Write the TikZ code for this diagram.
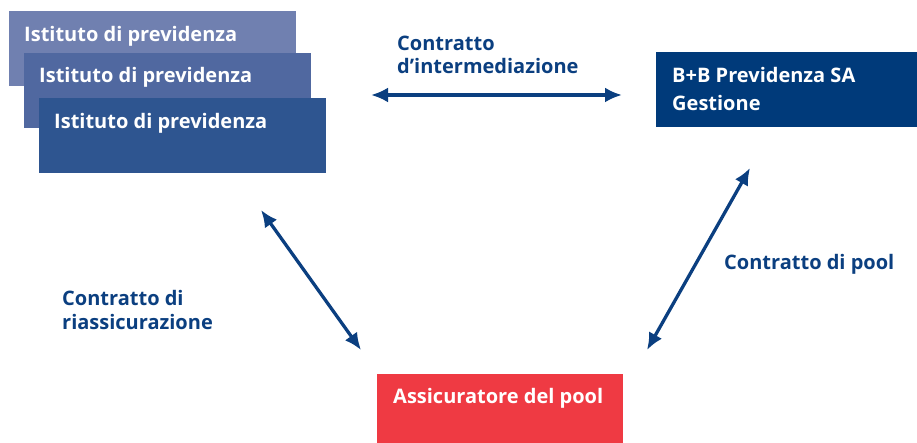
\documentclass[tikz,border=0pt]{standalone}
\usepackage{fontspec}
\setmainfont{Open Sans}[BoldFont={Open Sans Bold}]
\usetikzlibrary{arrows.meta}
\definecolor{boxA}{HTML}{7080B0}
\definecolor{boxB}{HTML}{5068A0}
\definecolor{boxC}{HTML}{2E5590}
\definecolor{bbblue}{HTML}{003A7A}
\definecolor{poolred}{HTML}{EF3A43}
\definecolor{txtblue}{HTML}{0B3F80}
\begin{document}
\begin{tikzpicture}[x=1pt,y=-1pt,
  boxtext/.style={text=white,font=\bfseries\fontsize{20}{28}\selectfont,anchor=west,inner sep=0pt,align=left},
  lbl/.style={text=txtblue,font=\bfseries\fontsize{20}{23.5}\selectfont,anchor=west,inner sep=0pt,align=left},
  conn/.style={txtblue,line width=3.3pt,{Latex[length=17pt,width=15pt]}-{Latex[length=17pt,width=15pt]}}]
\useasboundingbox (0,0) rectangle (917,443);
\fill[boxA] (9,11) rectangle (296,86);
\fill[boxB] (24,53) rectangle (311,128);
\fill[boxC] (39,98) rectangle (326,173);
\node[boxtext] (t1) at (24,36) {Istituto di previdenza};
\node[boxtext] (t2) at (39,77) {Istituto di previdenza};
\node[boxtext] (t3) at (54,123) {Istituto di previdenza};
\fill[bbblue] (656,52) rectangle (917,127);
\node[boxtext] (bb) at (672,89) {B+B Previdenza SA\\Gestione};
\fill[poolred] (377,374) rectangle (623,443);
\node[boxtext] (pool) at (393,398) {Assicuratore del pool};
\node[lbl] (l1) at (397,55) {Contratto\\d’intermediazione};
\node[lbl] (l2) at (724,264) {Contratto di pool};
\node[lbl] (l3) at (62,310) {Contratto di\\riassicurazione};
\coordinate (h1) at (371,95);
\coordinate (h2) at (622,95);
\coordinate (d1) at (261,210);
\coordinate (d2) at (361,350);
\coordinate (e1) at (750,168);
\coordinate (e2) at (647,350);
\draw[conn] (h1) -- (h2);
\draw[conn] (d1) -- (d2);
\draw[conn] (e1) -- (e2);
\end{tikzpicture}
\end{document}
